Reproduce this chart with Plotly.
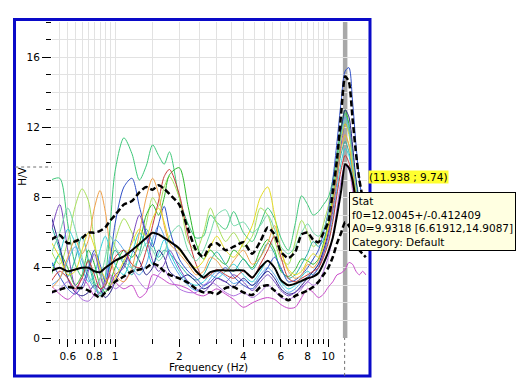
import math
import plotly.graph_objects as go

# Frequency samples (Hz) shared by every H/V curve
freq_hz = [0.5, 0.55, 0.6, 0.65, 0.7, 0.75, 0.8, 0.85, 0.9, 0.95,
           1.0, 1.1, 1.2, 1.3, 1.4, 1.5, 1.6, 1.7, 1.8, 2.0,
           2.2, 2.4, 2.6, 2.8, 3.0, 3.3, 3.6, 4.0, 4.4, 4.8,
           5.2, 5.6, 6.0, 6.5, 7.0, 7.5, 8.0, 8.5, 9.0, 9.5,
           10, 10.5, 11, 11.5, 12, 12.5, 13, 13.5, 14, 14.5, 15]

# Average H/V and its +/- one standard deviation envelope
hv_mean = [3.8, 4.0, 3.8, 3.9, 4.0, 4.0, 3.8, 3.75, 4.0, 4.2,
           4.4, 4.65, 5.0, 5.35, 5.7, 6.0, 5.9, 5.7, 5.5, 5.1,
           4.4, 3.8, 3.45, 3.75, 3.85, 3.85, 3.85, 3.85, 3.45, 4.0,
           4.4, 4.0, 3.3, 3.0, 3.1, 3.25, 3.4, 3.5, 3.7, 4.25,
           4.9, 5.7, 7.0, 8.4, 9.9, 9.7, 9.0, 7.8, 7.0, 6.4, 6.0]
hv_upper = [5.6, 5.85, 5.4, 5.5, 5.7, 6.0, 6.0, 6.1, 6.3, 6.7,
            7.0, 7.6, 7.8, 8.3, 8.6, 8.45, 8.7, 8.5, 8.2, 7.6,
            6.2, 5.0, 4.6, 5.3, 5.4, 5.0, 5.2, 5.45, 4.8, 5.5,
            6.3, 5.9, 4.9, 4.55, 4.9, 5.9, 6.0, 5.6, 5.45, 6.0,
            6.6, 8.3, 10.2, 12.8, 14.9, 14.6, 12.5, 10.5, 9.0, 8.0, 7.3]
hv_lower = [2.6, 2.75, 2.9, 2.85, 2.85, 2.7, 2.5, 2.3, 2.6, 2.9,
            3.2, 3.5, 3.8, 3.9, 4.0, 4.25, 4.1, 3.8, 3.6, 3.4,
            3.15, 2.8, 2.6, 2.6, 2.5, 2.85, 2.9, 2.6, 2.45, 2.9,
            3.0, 2.7, 2.4, 2.15, 2.4, 2.55, 2.7, 2.9, 3.2, 3.6,
            4.0, 4.6, 5.4, 6.0, 6.6, 6.4, 6.0, 5.4, 5.0, 4.8, 4.6]

# H/V curves of the individual time windows
win_01 = [9.0, 9.1, 6.5, 4.2, 3.5, 4.5, 3.2, 2.5, 3.5, 6.5,
          9.5, 11.4, 10.5, 9.0, 9.8, 11.0, 10.4, 9.9, 10.6, 8.0,
          6.5, 5.7, 5.8, 7.0, 6.6, 6.2, 7.2, 6.0, 5.5, 6.5,
          7.4, 6.8, 5.7, 5.0, 6.5, 8.1, 7.6, 7.0, 7.2, 7.6,
          8.0, 9.0, 10.5, 12.0, 12.8, 12.0, 10.5, 9.0, 8.0, 7.6, 7.5]
win_02 = [5.0, 4.2, 5.5, 7.5, 8.5, 7.8, 5.5, 3.8, 3.0, 4.0,
          5.5, 6.8, 6.0, 5.0, 6.5, 8.0, 7.5, 8.6, 9.2, 8.0,
          5.5, 5.0, 6.0, 7.4, 6.5, 5.5, 6.0, 5.2, 5.8, 7.4,
          7.0, 5.6, 4.5, 4.2, 5.5, 6.7, 6.0, 5.2, 5.5, 6.5,
          7.5, 8.8, 10.0, 11.0, 11.5, 11.0, 9.5, 8.0, 7.0, 6.5, 6.0]
win_03 = [3.5, 4.8, 4.0, 3.0, 3.6, 5.0, 4.2, 3.0, 2.6, 3.2,
          4.0, 5.0, 4.6, 5.4, 7.0, 7.6, 7.0, 8.0, 9.3, 9.7,
          7.5, 5.4, 4.5, 5.0, 4.6, 4.2, 5.0, 4.5, 4.0, 5.0,
          5.6, 5.0, 3.8, 3.5, 3.9, 4.5, 4.4, 4.2, 4.5, 5.4,
          6.5, 8.0, 10.0, 12.0, 13.0, 12.2, 10.5, 8.6, 7.4, 6.6, 6.2]
win_04 = [6.5, 5.0, 3.5, 4.5, 5.8, 4.4, 3.0, 2.4, 3.0, 4.2,
          5.0, 4.2, 3.6, 4.8, 6.2, 5.4, 4.6, 5.0, 4.8, 4.2,
          3.6, 3.3, 3.6, 4.4, 4.9, 4.2, 3.8, 4.5, 3.9, 4.6,
          5.4, 4.8, 3.9, 3.4, 3.6, 4.2, 4.8, 5.5, 5.2, 5.6,
          6.5, 7.8, 9.2, 10.5, 11.2, 10.6, 9.4, 8.0, 6.8, 6.0, 5.6]
win_05 = [4.0, 4.8, 6.2, 5.4, 4.0, 3.2, 3.6, 5.0, 5.8, 5.0,
          4.2, 3.6, 4.8, 6.0, 5.2, 4.2, 4.8, 5.6, 4.9, 3.8,
          3.2, 3.0, 3.2, 3.6, 3.4, 3.8, 4.2, 3.6, 3.2, 3.8,
          4.4, 4.0, 3.2, 2.8, 3.0, 3.5, 3.8, 3.6, 4.0, 4.8,
          5.5, 6.8, 8.5, 10.0, 10.8, 10.4, 9.2, 7.8, 6.8, 6.0, 5.5]
win_06 = [3.0, 3.4, 4.4, 5.2, 4.4, 3.4, 2.8, 2.6, 3.4, 4.8,
          5.6, 5.0, 4.0, 3.6, 4.2, 5.6, 6.4, 5.8, 4.6, 3.6,
          3.0, 2.7, 2.9, 3.4, 3.8, 3.5, 3.1, 3.3, 3.0, 3.6,
          4.0, 3.6, 3.0, 2.6, 2.8, 3.2, 3.5, 3.8, 4.2, 5.0,
          6.0, 7.6, 9.5, 11.5, 12.6, 12.0, 10.5, 8.8, 7.5, 6.6, 6.0]
win_07 = [4.4, 3.5, 2.8, 2.5, 3.0, 4.0, 5.0, 4.2, 3.2, 4.5,
          6.5, 8.6, 9.1, 7.5, 6.0, 5.2, 6.5, 7.5, 6.2, 4.5,
          3.8, 3.4, 3.0, 3.2, 3.6, 4.0, 3.5, 3.0, 2.8, 3.4,
          4.0, 4.6, 4.0, 3.2, 3.3, 3.6, 4.0, 4.5, 5.0, 6.0,
          7.2, 9.0, 11.2, 13.5, 15.2, 15.4, 13.5, 11.0, 9.0, 7.8, 7.0]
win_08 = [7.0, 5.2, 3.4, 2.6, 2.4, 2.6, 3.0, 2.8, 2.3, 2.6,
          3.2, 4.2, 5.0, 4.4, 3.6, 4.0, 5.0, 4.6, 3.8, 3.4,
          3.6, 3.2, 2.8, 3.0, 3.4, 3.2, 2.9, 3.4, 3.0, 3.4,
          3.8, 3.4, 2.8, 2.5, 2.6, 3.0, 3.4, 3.8, 4.2, 5.0,
          6.0, 7.6, 9.6, 11.8, 13.0, 12.6, 11.0, 9.0, 7.6, 6.6, 6.0]
win_09 = [6.0, 7.6, 5.0, 3.0, 2.8, 3.8, 4.8, 3.6, 2.8, 3.0,
          3.6, 4.0, 5.6, 7.0, 5.8, 4.4, 3.8, 4.2, 5.0, 4.0,
          3.2, 2.8, 2.6, 3.0, 3.4, 3.2, 3.6, 3.2, 2.7, 3.2,
          3.6, 3.2, 2.7, 2.4, 2.6, 2.9, 3.2, 3.6, 4.0, 4.8,
          5.8, 7.2, 9.0, 11.0, 12.2, 11.8, 10.2, 8.4, 7.0, 6.2, 5.6]
win_10 = [3.0, 2.5, 2.2, 2.6, 3.4, 3.0, 2.4, 2.6, 3.2, 3.6,
          3.2, 2.8, 3.0, 2.3, 2.6, 3.6, 3.5, 3.3, 3.1, 3.0,
          2.8, 2.5, 2.4, 2.6, 2.8, 2.5, 2.2, 1.75, 2.0, 2.2,
          2.3, 2.2, 1.9, 1.7, 1.75, 2.3, 2.8, 2.6, 2.3, 2.5,
          2.9, 3.2, 3.6, 3.7, 3.9, 4.3, 4.2, 3.8, 3.6, 3.8, 3.6]
win_11 = [2.5, 2.8, 3.2, 2.7, 2.2, 2.1, 2.5, 3.4, 4.0, 3.4,
          2.8, 3.2, 3.8, 3.2, 2.8, 3.0, 3.6, 3.9, 3.4, 2.8,
          2.6, 2.6, 3.0, 3.2, 3.0, 2.6, 2.4, 2.6, 2.3, 2.6,
          3.0, 2.7, 2.3, 2.2, 2.4, 2.8, 3.2, 3.0, 3.2, 3.8,
          4.6, 5.8, 7.4, 9.0, 9.8, 9.6, 8.4, 7.0, 6.0, 5.4, 5.0]
win_12 = [3.2, 3.8, 3.4, 2.8, 3.4, 4.4, 3.6, 2.8, 3.0, 3.8,
          4.6, 5.0, 4.2, 4.0, 5.0, 6.4, 7.8, 9.2, 9.6, 8.2,
          5.8, 4.2, 3.4, 3.6, 3.9, 3.6, 3.4, 3.8, 3.4, 4.2,
          5.0, 5.8, 4.6, 3.4, 3.2, 3.4, 3.6, 3.8, 4.0, 4.6,
          5.4, 6.6, 8.2, 9.6, 10.4, 10.0, 8.8, 7.4, 6.4, 5.8, 5.4]
win_13 = [2.8, 3.4, 4.6, 5.6, 4.8, 5.6, 7.4, 8.4, 7.2, 5.0,
          3.6, 3.2, 4.0, 6.0, 8.0, 9.1, 8.2, 6.4, 5.4, 4.8,
          4.2, 3.6, 3.8, 4.6, 4.4, 3.8, 4.4, 5.0, 4.2, 4.6,
          5.4, 6.4, 5.0, 3.8, 3.4, 3.6, 4.2, 4.0, 4.4, 5.2,
          6.2, 7.6, 9.2, 10.8, 11.6, 11.0, 9.6, 8.0, 6.8, 6.0, 5.6]
win_14 = [5.5, 4.6, 3.6, 3.8, 5.0, 6.0, 5.2, 4.0, 3.4, 3.0,
          3.4, 4.4, 5.4, 6.2, 5.8, 6.8, 7.4, 6.6, 5.6, 5.0,
          4.4, 4.0, 4.4, 5.2, 5.8, 5.0, 4.6, 5.4, 6.4, 8.0,
          8.6, 7.0, 5.0, 3.9, 3.6, 3.8, 4.4, 4.8, 4.6, 5.2,
          6.4, 8.0, 9.8, 11.4, 12.2, 11.6, 10.0, 8.4, 7.2, 6.4, 6.0]
win_15 = [4.8, 6.0, 7.4, 6.2, 4.6, 3.6, 3.0, 3.4, 4.6, 5.8,
          5.2, 4.4, 4.0, 4.6, 5.4, 5.0, 4.4, 4.8, 5.8, 6.4,
          5.0, 4.4, 5.0, 6.0, 7.0, 7.3, 6.4, 6.6, 6.0, 6.4,
          7.0, 6.2, 5.2, 4.8, 5.2, 6.0, 6.5, 6.0, 5.8, 6.2,
          7.0, 8.4, 10.0, 11.6, 12.4, 11.8, 10.2, 8.6, 7.4, 6.6, 6.2]

windows = [win_01, win_02, win_03, win_04, win_05, win_06, win_07, win_08,
           win_09, win_10, win_11, win_12, win_13, win_14, win_15]
window_colors = ["#3cc878", "#a8e05a", "#2cb82c", "#26b0a4", "#30d0d8",
                 "#5aa8ec", "#3050c8", "#262088", "#7a48c0", "#c848c8",
                 "#b070e0", "#c83838", "#f0a048", "#e4dc20", "#70d8a8"]

# Peak statistics and cursor position
f0 = 12.0045
f0_std = 0.412409
a0 = 9.9318
a0_low = 6.61912
a0_high = 14.9087
cursor_f = 11.938
cursor_a = 9.74

x_tick_vals = [0.6, 0.8, 1, 2, 4, 6, 8, 10]
x_tick_text = ["0.6", "0.8", "1", "2", "4", "6", "8", "10"]
x_minor_vals = [0.5, 0.55, 0.65, 0.7, 0.75, 0.85, 0.9, 0.95,
                1.5, 2.5, 3, 3.5, 4.5, 5, 5.5, 6.5, 7, 7.5, 8.5, 9, 9.5]
y_tick_vals = [0, 4, 8, 12, 16]

FONT = "DejaVu Sans"
GRID = "#e2e2e2"

fig = go.Figure()

for vals, col in zip(windows, window_colors):
    fig.add_trace(go.Scatter(x=freq_hz, y=vals, mode="lines",
                             line=dict(color=col, width=1, shape="spline", smoothing=0.8),
                             hoverinfo="skip"))

for vals in (hv_upper, hv_lower):
    fig.add_trace(go.Scatter(x=freq_hz, y=vals, mode="lines",
                             line=dict(color="black", width=2.5, dash="6px,3px",
                                       shape="spline", smoothing=0.6),
                             hoverinfo="skip"))

fig.add_trace(go.Scatter(x=freq_hz, y=hv_mean, mode="lines",
                         line=dict(color="black", width=2, shape="spline", smoothing=0.6),
                         hoverinfo="skip"))

x_lo, x_hi = math.log10(0.506), math.log10(15.2)

fig.update_layout(
    width=517, height=378, autosize=False,
    margin=dict(l=52, r=150, t=22, b=40),
    paper_bgcolor="white", plot_bgcolor="white",
    showlegend=False,
    font=dict(family=FONT, size=10, color="black"),
    xaxis=dict(type="log", range=[x_lo, x_hi],
               tickmode="array", tickvals=x_tick_vals, ticktext=x_tick_text,
               ticks="outside", ticklen=8, tickcolor="black", tickwidth=1,
               tickfont=dict(size=10.5),
               showgrid=True, gridcolor=GRID, gridwidth=1,
               showline=False, zeroline=False,
               minor=dict(tickmode="array", tickvals=x_minor_vals, ticks="outside",
                          ticklen=5, tickcolor="black", showgrid=True, gridcolor=GRID)),
    yaxis=dict(range=[0, 18], tickmode="array", tickvals=y_tick_vals,
               ticks="outside", ticklen=9, tickcolor="black", tickwidth=1,
               tickfont=dict(size=10.5),
               showgrid=True, gridcolor=GRID, gridwidth=1,
               showline=False, zeroline=False,
               minor=dict(dtick=1, ticks="outside", ticklen=5, tickcolor="black",
                          showgrid=True, gridcolor=GRID)),
)

# Peak frequency marker
fig.add_shape(type="line", xref="x", yref="paper",
              x0=f0, x1=f0, y0=0, y1=1,
              line=dict(color="#a8a8a8", width=4.5), layer="between")

# Blue frame around the graph
fig.add_shape(type="rect", xref="paper", yref="paper",
              x0=-0.119, x1=1.0095, y0=-0.120, y1=1.008,
              line=dict(color="#0a0ac8", width=3), fillcolor="rgba(0,0,0,0)", layer="above")

# Cursor guides in the axis margins
fig.add_shape(type="line", xref="paper", yref="y",
              x0=-0.117, x1=0, y0=cursor_a, y1=cursor_a,
              line=dict(color="#707070", width=1, dash="dot"), layer="above")
fig.add_shape(type="line", xref="x", yref="paper",
              x0=cursor_f, x1=cursor_f, y0=-0.12, y1=0,
              line=dict(color="#707070", width=1, dash="dot"), layer="above")

fig.add_annotation(text="H/V", xref="paper", yref="paper", x=-0.0952, y=0.51,
                   textangle=-90, showarrow=False, font=dict(size=10.5),
                   xanchor="center", yanchor="middle")
fig.add_annotation(text="Frequency (Hz)", xref="paper", yref="paper", x=0.498, y=-0.092,
                   showarrow=False, font=dict(size=10.5), xanchor="center", yanchor="middle")
fig.add_annotation(text="Stat", xref="x", yref="paper", x=f0 - f0_std, y=1.032,
                   showarrow=False, font=dict(size=10.5), xanchor="left", yanchor="middle")

fig.add_annotation(text="(%g ; %g)" % (cursor_f, cursor_a), xref="paper", yref="y",
                   x=1.003, y=cursor_a, yshift=-10, showarrow=False,
                   font=dict(size=10.5), bgcolor="#ffff30", borderpad=0,
                   xanchor="left", yanchor="middle")

tip = ("Stat<br>f0=%s+/-%s<br>A0=%s [%s,%s]<br>Category: Default"
       % (f0, f0_std, a0, a0_low, a0_high))
fig.add_annotation(text=tip, xref="paper", yref="paper", x=0.943, y=0.462,
                   showarrow=False, align="left", xanchor="left", yanchor="top",
                   font=dict(size=10.5), bgcolor="#ffffe1", bordercolor="black",
                   borderwidth=1, borderpad=2)

fig.write_html("out.html")
